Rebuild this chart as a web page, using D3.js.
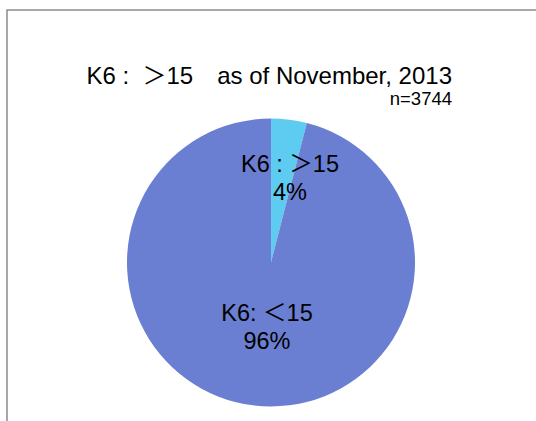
<!DOCTYPE html>
<html><head><meta charset="utf-8">
<script src="https://cdn.jsdelivr.net/npm/d3@7"></script>
<style>html,body{margin:0;padding:0;background:#fff;}svg{display:block;}</style>
</head><body>
<script>
const categories = ["K6 : ＞15", "K6: ＜15"];
const percents = [4, 96];
const colors = ["#5ECBF1", "#6A7FD1"];
const titleLines = ["K6 :  ＞15　as of November, 2013", "n=3744"];

const W = 536, H = 421;
const font = "'Liberation Sans', Arial, 'Noto Sans CJK JP', sans-serif";
const svg = d3.select("body").append("svg").attr("width", W).attr("height", H);
svg.append("rect").attr("width", W).attr("height", H).attr("fill", "#fff");
svg.append("rect").attr("x", 7).attr("y", 10).attr("width", W + 10).attr("height", H + 10)
  .attr("fill", "none").attr("stroke", "#8c8c8c").attr("stroke-width", 1.5);

const cx = 271, cy = 262.5, r = 144;
const pie = d3.pie().sort(null).value(d => d.v);
const data = pie(categories.map((c, i) => ({c, v: percents[i], col: colors[i]})));
const arc = d3.arc().innerRadius(0).outerRadius(r);
const g = svg.append("g").attr("transform", `translate(${cx},${cy})`);
g.selectAll("path").data(data).join("path").attr("d", arc).attr("fill", d => d.data.col);

const labelPos = [[19, -91], [-4, 58]];
data.forEach((d, i) => {
  const t = g.append("text").attr("text-anchor", "middle").attr("font-family", font)
    .attr("font-size", 23.5).attr("fill", "#000")
    .attr("x", labelPos[i][0]).attr("y", labelPos[i][1]);
  t.append("tspan").attr("x", labelPos[i][0]).attr("dy", 0).text(d.data.c);
  t.append("tspan").attr("x", labelPos[i][0]).attr("dy", 28).text(d.data.v + "%");
});

const titleSizes = [24, 18.5];
const titleY = [84, 105];
titleLines.forEach((l, i) => {
  svg.append("text").attr("text-anchor", "end").attr("font-family", font)
    .attr("font-size", titleSizes[i]).attr("fill", "#000")
    .attr("xml:space", "preserve").style("white-space", "pre")
    .attr("x", 452).attr("y", titleY[i]).text(l);
});
</script>
</body></html>
